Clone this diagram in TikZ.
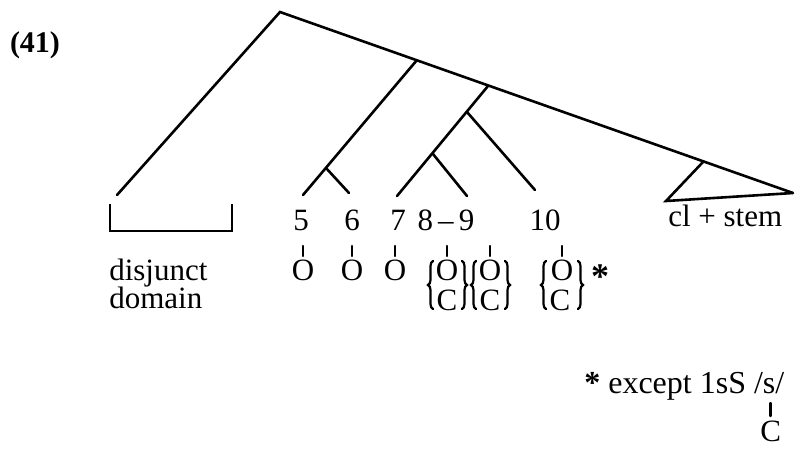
\documentclass[tikz,border=0pt]{standalone}
\usepackage{fontspec}
\setmainfont{Liberation Serif}
\usetikzlibrary{decorations.pathreplacing}
\begin{document}
\begin{tikzpicture}[x=1pt,y=-1pt, line width=2.6pt, line cap=round,
  lbl/.style={font=\fontsize{31}{36}\selectfont, inner sep=0pt, anchor=base},
  lblw/.style={lbl, anchor=base west},
  tickln/.style={line width=2.4pt},
  brc/.style={decorate, decoration={brace, amplitude=5pt}, line width=2.2pt}]
\useasboundingbox (0,0) rectangle (807,467);
% tree
\coordinate (R) at (280,12);
\coordinate (L) at (117,195);
\coordinate (E) at (793,193);
\coordinate (A) at (417,60);
\coordinate (B) at (488,86);
\coordinate (T) at (703,162);
\coordinate (TL) at (666,201);
\coordinate (e5) at (303,195);
\coordinate (J56) at (326,168);
\coordinate (e6) at (349,193);
\coordinate (e7) at (397,196);
\coordinate (Bp) at (467,112);
\coordinate (J89) at (433,154);
\coordinate (e89) at (467,196);
\coordinate (e10) at (535,190);
\draw (L) -- (R) -- (E);
\draw (A) -- (e5);
\draw (J56) -- (e6);
\draw (B) -- (e7);
\draw (J89) -- (e89);
\draw (Bp) -- (e10);
\draw[line cap=butt, line join=miter] (T) -- (TL) -- (E);
% bracket
\draw[line cap=butt, line join=miter] (110,204) -- (110,231) -- (232,231) -- (232,204);
% labels
\node[lbl, font=\fontsize{30}{36}\selectfont\bfseries] (n41) at (35,52) {(41)};
\node[lbl] (n5) at (301,230) {5};
\node[lbl] (n6) at (352,230) {6};
\node[lbl] (n7) at (398,230) {7};
\node[lbl] (n89) at (446,230) {8\,--\,9};
\node[lbl] (n10) at (545,230) {10};
\node[lblw] (ncl) at (667,226) {cl + stem};
\node[lblw] (ndis) at (108,280) {disjunct};
\node[lblw] (ndom) at (108,308) {domain};
% O row
\foreach \x/\n in {303/o5,352/o6,395/o7,447/o8,490/o9,562/o10}{
  \node[lbl] (\n) at (\x,280) {O};
  \draw[tickln] (\x,246) -- (\x,256);
}
\foreach \x/\n in {447/c8,490/c9,560/c10}{
  \node[lbl] (\n) at (\x,310) {C};
}
% braces
\draw[brc] (433,309) -- (433,261);
\draw[brc] (462,261) -- (462,309);
\draw[brc] (476,309) -- (476,261);
\draw[brc] (505,261) -- (505,309);
\draw[brc] (546,309) -- (546,261);
\draw[brc] (578,261) -- (578,309);
\node[lbl, font=\fontsize{36}{36}\selectfont\bfseries] (ast) at (600,288) {*};
% footnote
\node[lblw, font=\fontsize{32}{36}\selectfont] (fn) at (583,393) {{\bfseries *} except 1sS /s/};
\coordinate (tk1) at ([xshift=-15pt,yshift=-10pt]fn.base east);
\coordinate (tk2) at ([xshift=-15pt,yshift=-23pt]fn.base east);
\draw[tickln] (tk1) -- (tk2);
\node[lbl, anchor=north] (fnc) at ([yshift=-4pt]tk2) {C};
\end{tikzpicture}
\end{document}
